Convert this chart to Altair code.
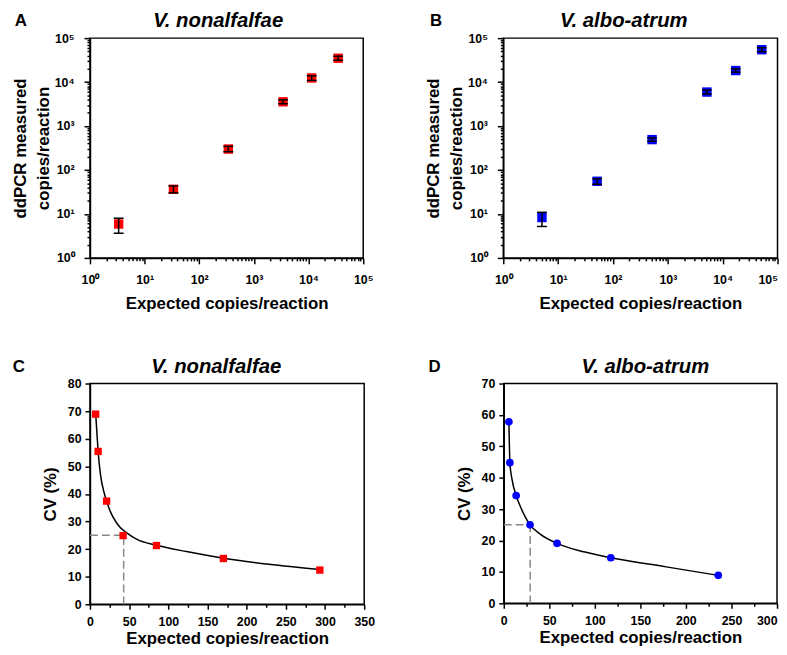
import altair as alt
import pandas as pd

FONT = "Liberation Sans"

# ---------------- data ----------------
# Panel A: V. nonalfalfae (log-log)
a_expected = [3.35, 33.7, 340, 3410, 11400, 34800]
a_measured = [5.9, 36.4, 300, 3560, 12400, 34900]
a_low = [3.66, 30.2, 261, 3210, 10900, 31400]
a_high = [7.96, 43.4, 345, 3950, 13900, 38800]

# Panel B: V. albo-atrum (log-log)
b_expected = [5.07, 51.4, 516, 5160, 17300, 51600]
b_measured = [8.28, 55.4, 491, 5930, 18300, 54500]
b_low = [5.19, 47.4, 450, 5350, 16800, 49100]
b_high = [10.9, 62.7, 536, 6570, 19900, 60400]

# Panel C: V. nonalfalfae CV
c_x = [7.3, 10.4, 21.2, 42.3, 84.9, 170.3, 293.4]
c_cv = [68.9, 55.4, 37.4, 24.9, 21.3, 16.6, 12.4]
c_curve_x = [7.3, 8.6, 10.4, 13.6, 17.9, 21.2, 26.3, 32.6, 38.9, 46.5, 60.0, 84.9, 123.2, 170.3, 228.5, 293.4]
c_curve_y = [68.9, 63.3, 55.4, 46.6, 40.6, 37.4, 33.4, 30.1, 27.7, 26.0, 23.5, 21.4, 19.1, 16.7, 14.5, 12.6]
c_cut_x = 43
c_cut_y = 25

# Panel D: V. albo-atrum CV
d_x = [5.6, 6.7, 13.6, 28.8, 58.5, 117.5, 235.5]
d_cv = [57.8, 44.8, 34.3, 25.0, 19.1, 14.5, 8.9]
d_curve_x = [5.6, 6.0, 6.7, 8.9, 13.6, 19.0, 28.8, 40.7, 58.5, 87.8, 117.5, 178.3, 235.5]
d_curve_y = [57.8, 52.4, 44.8, 39.7, 34.3, 30.3, 25.0, 21.9, 19.1, 16.4, 14.5, 11.6, 8.9]
d_cut_x = 29
d_cut_y = 25

decades = [1, 10, 100, 1000, 10000, 100000]
superscripts = ["⁰", "¹", "²", "³", "⁴", "⁵"]
log_ticks = sorted(set([m * d for d in decades[:-1] for m in range(1, 10)] + [decades[-1]]))

RED = "#FF0000"
BLUE = "#0000FF"

IS_DECADE = "abs(log(datum.value)/LN10 - round(log(datum.value)/LN10)) < 1e-6"
SUP = "[" + ",".join("'" + s + "'" for s in superscripts) + "]"
LOG_LABEL = f"{IS_DECADE} ? '10' + {SUP}[round(log(datum.value)/LN10)] : ''"


def text_layer(txt, dx, dy, size, style):
    return alt.Chart(pd.DataFrame({"t": [txt]})).mark_text(
        align="left" if style == "normal" else "center",
        baseline="alphabetic",
        font=FONT,
        fontSize=size,
        fontWeight="bold",
        fontStyle=style,
        color="black",
    ).encode(x=alt.value(dx), y=alt.value(dy), text="t:N")


def log_panel(expected, measured, low, high, color, letter, species, letter_dx, title_dx, w, h, right_edge):
    df = pd.DataFrame({"expected": expected, "measured": measured, "low": low, "high": high})
    x_kwargs = {}
    if right_edge:
        x_kwargs["labelAlign"] = {"condition": {"test": "datum.value >= 99999", "value": "right"}, "value": "center"}
    xax = alt.Axis(
        values=log_ticks, labelExpr=LOG_LABEL, labelOverlap=False, labelFlush=False,
        tickSize={"condition": {"test": IS_DECADE, "value": 6}, "value": 3},
        title="Expected copies/reaction", titlePadding=10, labelPadding=10, **x_kwargs,
    )
    yax = alt.Axis(
        values=log_ticks, labelExpr=LOG_LABEL, labelOverlap=False, labelFlush=False,
        tickSize={"condition": {"test": IS_DECADE, "value": 6}, "value": 3},
        title=["ddPCR measured", "copies/reaction"], titlePadding=2, titleLineHeight=23,
        labelPadding=10,
    )
    X = alt.X("expected:Q", scale=alt.Scale(type="log", domain=[1, 100000]), axis=xax)

    def Y(field):
        return alt.Y(field, type="quantitative", scale=alt.Scale(type="log", domain=[1, 100000]), axis=yax)

    base = alt.Chart(df)
    pts = base.mark_square(size=90, color=color, opacity=1).encode(x=X, y=Y("measured"))
    bars = base.mark_rule(color="black", strokeWidth=1.5).encode(x=X, y=Y("low"), y2="high:Q")
    cap_lo = base.mark_tick(orient="horizontal", size=10, thickness=1.5, color="black", opacity=1).encode(x=X, y=Y("low"))
    cap_hi = base.mark_tick(orient="horizontal", size=10, thickness=1.5, color="black", opacity=1).encode(x=X, y=Y("high"))
    lay = alt.layer(
        pts, bars, cap_lo, cap_hi,
        text_layer(letter, letter_dx, -12, 17, "normal"),
        text_layer(species, title_dx, -11, 20.5, "italic"),
    ).properties(width=w, height=h)
    return lay


def cv_panel(xs, cvs, cx, cy, cut_x, cut_y, color, shape, letter, species, letter_dx, title_dx,
             xmax, ymax, w, h, right_edge):
    df = pd.DataFrame({"x": xs, "cv": cvs})
    cdf = pd.DataFrame({"x": cx, "cv": cy})
    guide = pd.DataFrame({"x0": [0, cut_x], "x1": [cut_x, cut_x], "y0": [cut_y, 0], "y1": [cut_y, cut_y]})
    x_kwargs = {}
    if right_edge:
        x_kwargs["labelAlign"] = {"condition": {"test": f"datum.value >= {xmax}", "value": "right"}, "value": "center"}
    xax = alt.Axis(
        values=list(range(0, xmax + 1, 25)),
        labelExpr="datum.value % 50 === 0 ? datum.label : ''",
        labelOverlap=False, labelFlush=False,
        tickSize={"condition": {"test": "datum.value % 50 === 0", "value": 5}, "value": 3},
        title="Expected copies/reaction", titlePadding=3.5, labelPadding=6, **x_kwargs,
    )
    yax = alt.Axis(values=list(range(0, ymax + 1, 10)), tickSize=5, labelFlush=False,
                   title="CV (%)", titlePadding=8, labelPadding=4)

    def X(field):
        return alt.X(field, type="quantitative", scale=alt.Scale(domain=[0, xmax], nice=False), axis=xax)

    def Y(field):
        return alt.Y(field, type="quantitative", scale=alt.Scale(domain=[0, ymax], nice=False), axis=yax)

    g = alt.Chart(guide).mark_rule(color="#888888", strokeWidth=1.5, strokeDash=[8, 4]).encode(
        x=X("x0"), x2="x1:Q", y=Y("y0"), y2="y1:Q")
    line = alt.Chart(cdf).mark_line(color="black", strokeWidth=1.5, interpolate="monotone").encode(
        x=X("x"), y=Y("cv"))
    if shape == "square":
        pts = alt.Chart(df).mark_square(size=55, color=color, opacity=1).encode(x=X("x"), y=Y("cv"))
    else:
        pts = alt.Chart(df).mark_circle(size=60, color=color, opacity=1).encode(x=X("x"), y=Y("cv"))
    return alt.layer(
        g, line, pts,
        text_layer(letter, letter_dx, -12, 17, "normal"),
        text_layer(species, title_dx, -11, 20.5, "italic"),
    ).properties(width=w, height=h)


A = log_panel(a_expected, a_measured, a_low, a_high, RED, "A", "V. nonalfalfae", -76, 129.5, 276, 222, False)
B = log_panel(b_expected, b_measured, b_low, b_high, BLUE, "B", "V. albo-atrum", -74, 121.7, 277, 222, True)
C = cv_panel(c_x, c_cv, c_curve_x, c_curve_y, c_cut_x, c_cut_y, RED, "square", "C", "V. nonalfalfae",
             -78, 127.5, 350, 80, 277, 223, False)
D = cv_panel(d_x, d_cv, d_curve_x, d_curve_y, d_cut_x, d_cut_y, BLUE, "circle", "D", "V. albo-atrum",
             -76, 143, 300, 70, 276, 222, True)

row1 = alt.hconcat(A, B, spacing=50.5)
row2 = alt.hconcat(C, D, spacing=52)

chart = alt.vconcat(row1, row2, spacing=42.9).properties(
    padding={"left": 2.8, "top": -0.8, "right": 0, "bottom": -3.6},
).configure_view(
    stroke="black", strokeWidth=1.5
).configure_axis(
    domainColor="black", domainWidth=1.5, tickColor="black", tickWidth=1.5,
    labelFont=FONT, labelFontSize=12.5, labelFontWeight="bold", labelColor="black",
    titleFont=FONT, titleFontSize=17, titleFontWeight="bold", titleColor="black",
    grid=False,
)

chart.save("out.html", embed_options={"renderer": "svg", "actions": False})
